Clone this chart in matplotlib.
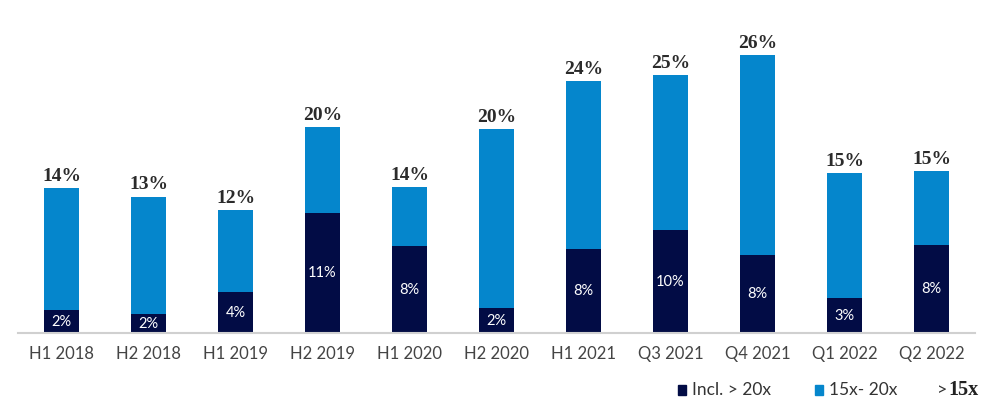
import matplotlib.pyplot as plt
import matplotlib.patches as mpatches

# periods and values (% of deals)
periods = ['H1 2018', 'H2 2018', 'H1 2019', 'H2 2019', 'H1 2020', 'H2 2020',
           'H1 2021', 'Q3 2021', 'Q4 2021', 'Q1 2022', 'Q2 2022']
total = [13.8, 13.0, 11.7, 19.6, 13.9, 19.4, 24.0, 24.6, 26.5, 15.2, 15.4]
above_20x = [2.2, 1.8, 3.9, 11.4, 8.3, 2.4, 8.0, 9.8, 7.4, 3.3, 8.4]
total_labels = ['14%', '13%', '12%', '20%', '14%', '20%', '24%', '25%', '26%', '15%', '15%']
inner_labels = ['2%', '2%', '4%', '11%', '8%', '2%', '8%', '10%', '8%', '3%', '8%']

navy = '#020c45'
blue = '#0586cc'
sans = ['Lato', 'DejaVu Sans']
serif = ['Liberation Serif', 'DejaVu Serif']

mid = [t - a for t, a in zip(total, above_20x)]
x = range(len(periods))

fig = plt.figure(figsize=(10, 4.18), dpi=100)
ax = fig.add_axes([0.018, 0.203, 0.957, 0.754])

ax.bar(x, above_20x, width=0.4, color=navy)
ax.bar(x, mid, width=0.4, bottom=above_20x, color=blue)

for i in x:
    ax.text(i, total[i] + 0.3, total_labels[i], ha='center', va='bottom',
            fontsize=14, fontweight='bold', family=serif, color='#2b2b2b')
    ax.text(i, above_20x[i] / 2, inner_labels[i], ha='center', va='center',
            fontsize=10.5, family=sans, color='white')

ax.set_xlim(-0.5, 10.5)
ax.set_ylim(0, 30)
ax.set_xticks(list(x))
ax.set_xticklabels(periods, fontsize=12, family=sans, color='#444444')
ax.tick_params(axis='x', length=0, pad=9)
ax.set_yticks([])
for s in ['top', 'right', 'left']:
    ax.spines[s].set_visible(False)
ax.spines['bottom'].set_color('#d0d0d0')
ax.spines['bottom'].set_linewidth(1.5)

# legend
ly = 0.067
fig.patches.append(mpatches.Rectangle((0.678, ly - 0.013), 0.008, 0.025,
                                      transform=fig.transFigure, color=navy))
fig.text(0.692, ly, 'Incl. > 20x', fontsize=12.5, family=sans, color='#333333', va='center')
fig.patches.append(mpatches.Rectangle((0.815, ly - 0.013), 0.008, 0.025,
                                      transform=fig.transFigure, color=blue))
fig.text(0.829, ly, '15x- 20x', fontsize=12.5, family=sans, color='#333333', va='center')
fig.text(0.937, ly, '>', fontsize=13, family=sans, color='#333333', va='center')
fig.text(0.948, ly, '15x', fontsize=14.5, fontweight='bold', family=serif,
         color='#222222', va='center')

fig.savefig('out.png', dpi=100)
